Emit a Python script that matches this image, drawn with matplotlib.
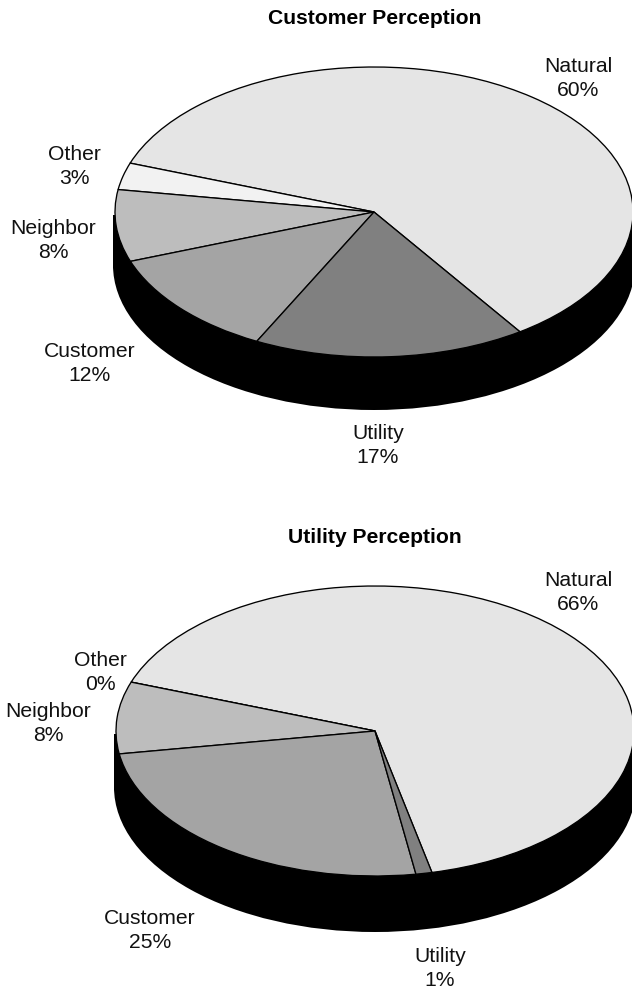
import matplotlib
matplotlib.use("Agg")
import matplotlib.pyplot as plt
from matplotlib.patches import Ellipse, Rectangle

plt.rcParams['font.family'] = ['Liberation Sans', 'DejaVu Sans']

W, H = 632, 989

categories = ['Natural', 'Other', 'Neighbor', 'Customer', 'Utility']
customer_values = [60, 3, 8, 12, 17]
utility_values = [66, 0, 8, 25, 1]
colors = ['#e5e5e5', '#f2f2f2', '#bdbdbd', '#a4a4a4', '#808080']

fig = plt.figure(figsize=(W / 100, H / 100), dpi=100)
bg = fig.add_axes([0, 0, 1, 1])  # pixel coordinates, y going down
bg.set_xlim(0, W)
bg.set_ylim(H, 0)
bg.axis('off')


def pie3d(values, start, cx, cy, rx, ry, depth):
    # black rim first, then the pie squeezed into an ellipse on top of it
    bg.add_patch(Rectangle((cx - rx - 2, cy + 3), 2 * rx + 4, depth, color='black', lw=0))
    bg.add_patch(Ellipse((cx, cy + depth), 2 * rx + 4, 2 * ry, color='black', lw=0))
    ax = fig.add_axes([(cx - rx) / W, 1 - (cy + ry) / H, 2 * rx / W, 2 * ry / H])
    ax.pie(values, colors=colors, startangle=start, counterclock=True,
           wedgeprops={'edgecolor': 'black', 'linewidth': 0.95})
    ax.set_aspect('auto')
    ax.set_xlim(-1, 1)
    ax.set_ylim(-1, 1)
    ax.patch.set_alpha(0)
    for w in ax.patches:
        w.set_clip_on(False)


pie3d(customer_values, -55.7, 374, 212, 259, 145, 53)
pie3d(utility_values, -77.3, 375, 731, 259, 145, 56)


def label(x, y, name, val):
    # y is the baseline of the percent line
    bg.text(x, y, f'{name}\n{val}%', ha='center', va='baseline', fontsize=15.2,
            linespacing=1.34, color='#111111')


bg.text(375, 24, 'Customer Perception', ha='center', va='baseline', fontsize=15.2, fontweight='bold')
label(578, 96, categories[0], customer_values[0])
label(74, 184, categories[1], customer_values[1])
label(53, 258, categories[2], customer_values[2])
label(90, 381, categories[3], customer_values[3])
label(378, 463, categories[4], customer_values[4])

bg.text(375, 543, 'Utility Perception', ha='center', va='baseline', fontsize=15.2, fontweight='bold')
label(578, 610, categories[0], utility_values[0])
label(100.5, 690, categories[1], utility_values[1])
label(48, 741, categories[2], utility_values[2])
label(150, 948, categories[3], utility_values[3])
label(440, 986, categories[4], utility_values[4])

fig.savefig('out.png', dpi=100)
